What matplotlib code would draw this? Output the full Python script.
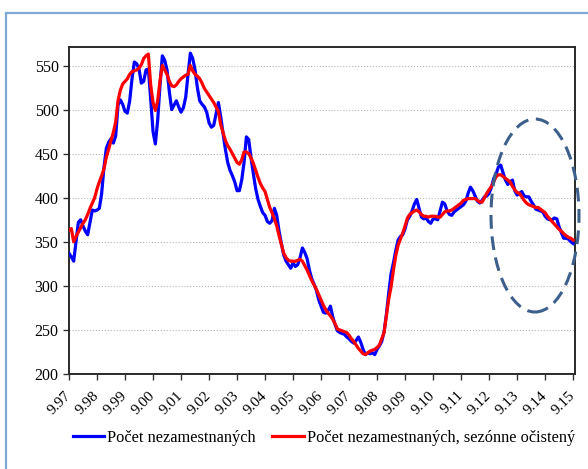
import matplotlib
matplotlib.use("Agg")
import matplotlib.pyplot as plt
from matplotlib.patches import Ellipse, Rectangle
import numpy as np

# monthly data, Sep 1997 .. Sep 2015 (thousands)
blue_vals = [
    337, 333, 328, 350, 372, 375, 368, 362, 358, 372, 386, 385,
    386, 388, 405, 435, 456, 463, 467, 462, 470, 505, 511, 506,
    498, 496, 510, 535, 554, 552, 546, 530, 532, 545, 546, 512,
    475, 461, 488, 528, 561, 556, 545, 520, 500, 505, 510, 503,
    497, 502, 514, 540, 564, 558, 545, 525, 510, 506, 503, 497,
    485, 480, 482, 495, 508, 492, 473, 455, 440, 431, 425, 418,
    408, 408, 420, 440, 469, 466, 445, 427, 410, 398, 390, 383,
    380, 373, 371, 374, 388, 380, 362, 348, 335, 328, 324, 320,
    326, 322, 324, 332, 343, 338, 331, 318, 308, 302, 295, 284,
    277, 270, 269, 272, 277, 265, 256, 249, 247, 246, 245, 242,
    240, 237, 235, 238, 242, 236, 228, 222, 224, 223, 224, 222,
    228, 232, 237, 248, 268, 292, 314, 326, 340, 352, 356, 358,
    365, 375, 379, 385, 393, 398, 388, 378, 376, 377, 373, 371,
    376, 376, 375, 385, 395, 393, 385, 381, 380, 384, 386, 388,
    390, 392, 396, 405, 412, 408, 402, 396, 394, 397, 401, 402,
    405, 412, 422, 427, 435, 437, 428, 420, 415, 418, 420, 408,
    403, 405, 407, 402, 401, 401, 396, 392, 387, 386, 385, 384,
    379, 376, 375, 375, 377, 376, 367, 360, 354, 354, 353, 350,
    348,
]
red_vals = [
    363, 365, 350, 356, 361, 366, 371, 375, 381, 388, 394, 400,
    410, 418, 425, 433, 446, 455, 465, 474, 486, 510, 522, 529,
    532, 535, 540, 543, 544, 545, 547, 551, 558, 561, 563, 528,
    508, 499, 510, 533, 550, 545, 540, 532, 527, 526, 528, 532,
    535, 537, 539, 540, 550, 544, 540, 538, 535, 530, 524, 520,
    516, 512, 508, 503, 498, 483, 474, 465, 459, 455, 450, 445,
    440, 438, 443, 452, 452, 450, 445, 439, 431, 423, 416, 411,
    407, 398, 389, 383, 376, 368, 357, 347, 337, 332, 329, 328,
    328, 328, 329, 330, 328, 323, 318, 312, 306, 301, 296, 290,
    284, 278, 273, 269, 266, 262, 257, 251, 250, 249, 248, 247,
    244, 240, 237, 233, 229, 226, 223, 222, 224, 226, 227, 228,
    230, 233, 240, 247, 266, 285, 299, 318, 334, 346, 353, 360,
    368, 377, 381, 383, 385, 386, 384, 381, 379, 379, 378, 379,
    379, 379, 378, 378, 381, 384, 385, 385, 386, 388, 390, 392,
    394, 397, 398, 399, 399, 399, 399, 397, 395, 395, 400, 405,
    409, 413, 418, 424, 426, 426, 424, 422, 420, 418, 413, 409,
    406, 405, 401, 397, 394, 392, 391, 390, 389, 389, 387, 385,
    383, 379, 376, 373, 370, 367, 364, 362, 359, 357, 355, 354,
    352,
]
tick_labels = ["9.97", "9.98", "9.99", "9.00", "9.01", "9.02", "9.03", "9.04",
               "9.05", "9.06", "9.07", "9.08", "9.09", "9.10", "9.11", "9.12",
               "9.13", "9.14", "9.15"]
series_names = ["Počet nezamestnaných", "Počet nezamestnaných, sezónne očistený"]

plt.rcParams['font.family'] = ['Liberation Serif', 'DejaVu Serif']

fig = plt.figure(figsize=(5.88, 4.69), dpi=100)
fig.patch.set_facecolor("white")

# outer frame (left/top visible)
fig.patches.append(Rectangle((6 / 588, -0.1), 1.2, 1 - 13 / 469 + 0.1,
                             transform=fig.transFigure, fill=False,
                             edgecolor="#7fa7d8", linewidth=1.6))

ax = fig.add_axes([69 / 588, 1 - 374 / 469, (575 - 69) / 588, (374 - 47) / 469])
months = np.arange(len(blue_vals))
ax.plot(months, blue_vals, color="#0000ff", lw=2.3, label=series_names[0], zorder=3)
ax.plot(months, red_vals, color="#ff0000", lw=2.3, label=series_names[1], zorder=4)

ax.set_xlim(0, 216.8)
ax.set_ylim(200, 571)
ax.set_yticks(np.arange(200, 551, 50))
ax.set_xticks(np.arange(0, 217, 12))
ax.set_xticklabels(tick_labels, rotation=45, ha="right", va="center",
                   rotation_mode="anchor")
ax.tick_params(axis="both", direction="out", length=4, width=1, labelsize=11.5,
               color="#333333")
ax.tick_params(axis="x", pad=10, labelsize=11)
ax.grid(axis="y", linestyle=":", color="#b8b8b8", linewidth=0.8)
ax.set_axisbelow(True)
for s in ax.spines.values():
    s.set_color("#2a2a2a")
    s.set_linewidth(1.4)

ell = Ellipse((535 / 588, 1 - 215.5 / 469), 88 / 588, 193 / 469,
              transform=fig.transFigure, fill=False, edgecolor="#3d5f8c",
              linewidth=2.2, linestyle=(0, (4.5, 2.5)), zorder=10)
fig.patches.append(ell)

fig.legend(loc="center", bbox_to_anchor=(324 / 588, 1 - 438 / 469), ncol=2,
           frameon=False, fontsize=11.8, handlelength=1.9, handletextpad=0.2,
           columnspacing=1.0)

fig.savefig("out.png", dpi=100)
